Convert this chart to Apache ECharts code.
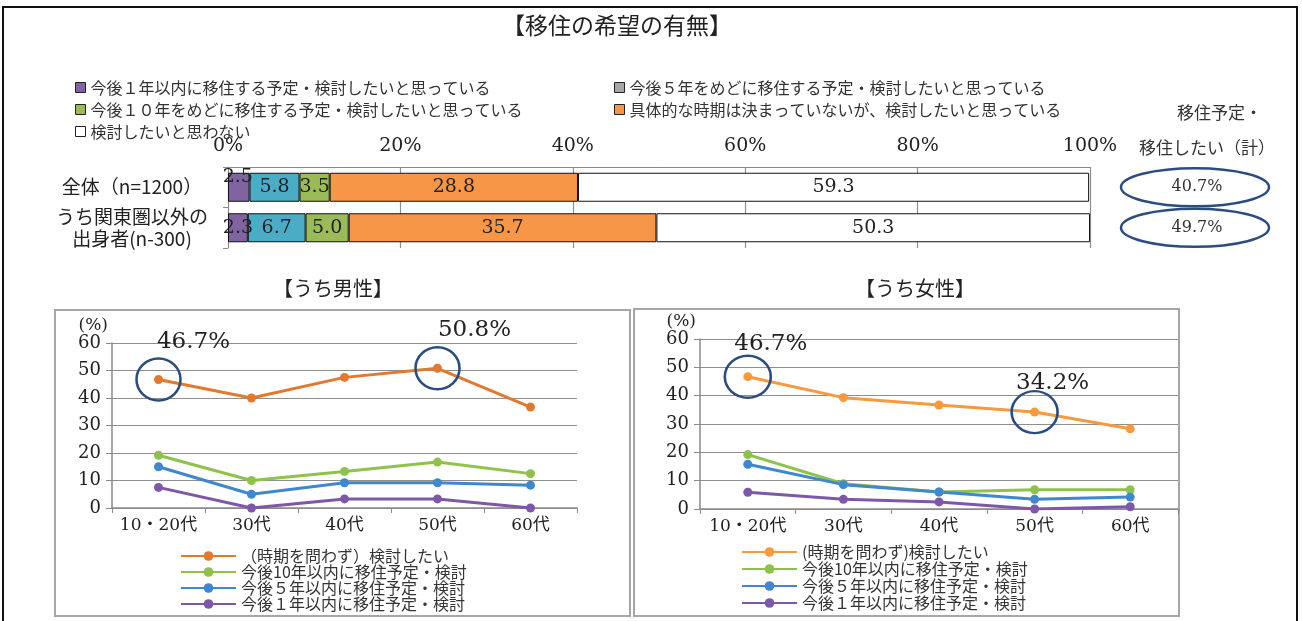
<!DOCTYPE html>
<html lang="ja">
<head>
<meta charset="utf-8">
<title>移住の希望の有無</title>
<script src="https://cdn.jsdelivr.net/npm/echarts@6/dist/echarts.min.js"></script>
<style>
  html, body { margin: 0; padding: 0; background: #fff; }
  #chart { width: 1302px; height: 621px; }
</style>
</head>
<body>
<div id="chart"></div>
<script>
// ---- 移住の希望の有無 (stacked 100% bar) ----
const barCategories = ['全体（n=1200）', 'うち関東圏以外の\n出身者(n-300)'];
const barSeriesNames = [
  '今後１年以内に移住する予定・検討したいと思っている',
  '今後５年をめどに移住する予定・検討したいと思っている',
  '今後１０年をめどに移住する予定・検討したいと思っている',
  '具体的な時期は決まっていないが、検討したいと思っている',
  '検討したいと思わない'
];
const within1Year = [2.5, 2.3];
const within5Years = [5.8, 6.7];
const within10Years = [3.5, 5.0];
const undecidedTiming = [28.8, 35.7];
const notConsidering = [59.3, 50.3];
const totalWilling = [40.7, 49.7];
const percentTicks = [0, 20, 40, 60, 80, 100];

// ---- うち男性 / うち女性 (line charts by age group) ----
const ageGroups = ['10・20代', '30代', '40代', '50代', '60代'];
const maleLineNames = ['（時期を問わず）検討したい', '今後10年以内に移住予定・検討', '今後５年以内に移住予定・検討', '今後１年以内に移住予定・検討'];
const femaleLineNames = ['(時期を問わず)検討したい', '今後10年以内に移住予定・検討', '今後５年以内に移住予定・検討', '今後１年以内に移住予定・検討'];
const maleAnyTime = [46.7, 40.0, 47.5, 50.8, 36.7];
const maleWithin10 = [19.2, 10.0, 13.3, 16.7, 12.5];
const maleWithin5 = [15.0, 5.0, 9.2, 9.2, 8.3];
const maleWithin1 = [7.5, 0.0, 3.3, 3.3, 0.0];
const femaleAnyTime = [46.7, 39.3, 36.7, 34.2, 28.3];
const femaleWithin10 = [19.2, 8.9, 6.0, 6.8, 6.8];
const femaleWithin5 = [15.8, 8.6, 6.0, 3.4, 4.2];
const femaleWithin1 = [5.9, 3.4, 2.5, 0.0, 0.8];
const lineTicks = [0, 10, 20, 30, 40, 50, 60];
// highlighted points: age group index for each panel
const maleHighlights = [0, 3];
const femaleHighlights = [0, 3];

const SERIF = "'DejaVu Serif', 'Noto Sans CJK JP', serif";
const JP = "'Noto Sans CJK JP', 'DejaVu Serif', sans-serif";
const TEXT = '#222';
const GRID_GRAY = '#8e8e8e';
const RING = '#2B4C80';

// ellipse outline as an SVG path drawn at its final pixel size
function ellipsePath(w, h) {
  const rx = w / 2, ry = h / 2;
  return 'path://M0,' + ry + 'A' + rx + ',' + ry + ',0,1,1,' + w + ',' + ry +
         'A' + rx + ',' + ry + ',0,1,1,0,' + ry + 'Z';
}

const barColors = ['#8064A2', '#4BACC6', '#9BBB59', '#F79646', '#FFFFFF'];
const barValues = [within1Year, within5Years, within10Years, undecidedTiming, notConsidering];

const barSeries = barValues.map((vals, k) => ({
  type: 'bar',
  name: barSeriesNames[k],
  stack: 'all',
  xAxisIndex: 0,
  yAxisIndex: 0,
  barWidth: 29,
  itemStyle: { color: barColors[k], borderColor: '#111', borderWidth: 1 },
  label: {
    show: true,
    position: 'inside',
    color: TEXT,
    fontFamily: SERIF,
    fontSize: 19,
    formatter: p => Number(p.value).toFixed(1)
  },
  data: vals.map((v, i) => (k === 0 && i === 0)
    ? { value: v, label: { offset: [-1, -10] } }
    : v)
}));

// totals (移住予定・移住したい 計) drawn as ringed labels beside each bar row
const ellipseSeries = {
  type: 'custom',
  coordinateSystem: 'cartesian2d',
  xAxisIndex: 1,
  yAxisIndex: 1,
  silent: true,
  data: totalWilling.map((v, i) => [0.5, i, v]),
  renderItem: (params, api) => {
    const c = api.coord([api.value(0), api.value(1)]);
    return {
      type: 'group',
      children: [
        { type: 'ellipse', shape: { cx: c[0], cy: c[1], rx: 74, ry: 19 },
          style: { fill: 'none', stroke: RING, lineWidth: 2.5 } },
        { type: 'text', x: c[0] + 2, y: c[1],
          style: { text: api.value(2).toFixed(1) + '%', align: 'center', verticalAlign: 'middle',
                   fill: '#333', font: "16px 'DejaVu Serif', 'Noto Sans CJK JP', serif" } }
      ]
    };
  }
};

function lineSeries(name, data, color, axisIdx) {
  return {
    type: 'line',
    name: name,
    xAxisIndex: axisIdx,
    yAxisIndex: axisIdx,
    data: data,
    symbol: 'circle',
    symbolSize: 9,
    lineStyle: { width: 3, color: color },
    itemStyle: { color: color },
    z: 3
  };
}

function ringMarks(values, idxs, offsets, size) {
  return {
    symbol: ellipsePath(size[0], size[1]),
    symbolSize: size,
    itemStyle: { color: 'rgba(0,0,0,0)', borderColor: RING, borderWidth: 2.5 },
    label: {
      show: true,
      position: 'inside',
      color: TEXT,
      fontFamily: SERIF,
      fontSize: 23,
      formatter: p => Number(p.value).toFixed(1) + '%'
    },
    data: idxs.map((ix, j) => ({
      coord: [ageGroups[ix], values[ix]],
      value: values[ix],
      label: { offset: offsets[j] }
    }))
  };
}

const maleColors = ['#E3782F', '#8FC24A', '#3F87CF', '#7D58A9'];
const femaleColors = ['#F79A3E', '#8FC24A', '#3F87CF', '#7D58A9'];

const maleOrange = lineSeries(maleLineNames[0], maleAnyTime, maleColors[0], 2);
maleOrange.markPoint = ringMarks(maleAnyTime, maleHighlights, [[35, -38], [37, -38]], [44, 42]);
const femaleOrange = lineSeries(femaleLineNames[0], femaleAnyTime, femaleColors[0], 3);
femaleOrange.markPoint = ringMarks(femaleAnyTime, femaleHighlights, [[23, -33], [18, -29]], [46, 42]);

const lineAll = [
  maleOrange,
  lineSeries(maleLineNames[1], maleWithin10, maleColors[1], 2),
  lineSeries(maleLineNames[2], maleWithin5, maleColors[2], 2),
  lineSeries(maleLineNames[3], maleWithin1, maleColors[3], 2),
  femaleOrange,
  lineSeries(femaleLineNames[1], femaleWithin10, femaleColors[1], 3),
  lineSeries(femaleLineNames[2], femaleWithin5, femaleColors[2], 3),
  lineSeries(femaleLineNames[3], femaleWithin1, femaleColors[3], 3)
];

function lineX(gridIndex) {
  return {
    type: 'category',
    gridIndex: gridIndex,
    data: ageGroups,
    boundaryGap: true,
    axisLine: { show: true, lineStyle: { color: '#8a8a8a', width: 1.5 } },
    axisTick: { show: true, inside: false, length: 5, interval: 0, lineStyle: { color: '#8a8a8a' } },
    axisLabel: { color: TEXT, fontFamily: SERIF, fontSize: 17, margin: 9, interval: 0 },
    splitLine: { show: false }
  };
}
function lineY(gridIndex) {
  return {
    type: 'value',
    gridIndex: gridIndex,
    min: lineTicks[0],
    max: lineTicks[lineTicks.length - 1],
    interval: lineTicks[1] - lineTicks[0],
    name: '(%)',
    nameLocation: 'end',
    nameGap: 7,
    nameTextStyle: { color: TEXT, fontFamily: SERIF, fontSize: 17, align: 'right', padding: [0, 4, 0, 0] },
    axisLine: { show: true, lineStyle: { color: '#8a8a8a', width: 1.5 } },
    axisTick: { show: true, inside: false, length: 6, lineStyle: { color: '#8a8a8a' } },
    axisLabel: { color: TEXT, fontFamily: SERIF, fontSize: 18, margin: 11 },
    splitLine: { show: true, lineStyle: { color: GRID_GRAY, width: 1.2 } }
  };
}

const legendText = { color: '#333', fontFamily: JP, fontSize: 16, lineHeight: 17 };
const lineLegendText = { color: '#333', fontFamily: JP, fontSize: 16, lineHeight: 16 };

const option = {
  backgroundColor: '#ffffff',
  animation: false,
  textStyle: { fontFamily: JP },
  title: [
    { text: '【移住の希望の有無】', left: 497, top: 9, textStyle: { color: TEXT, fontFamily: JP, fontSize: 23, fontWeight: 'normal' } },
    { text: '移住予定・', left: 1172, top: 99, textStyle: { color: '#333', fontFamily: JP, fontSize: 17, fontWeight: 'normal' } },
    { text: '移住したい（計）', left: 1134, top: 134, textStyle: { color: '#333', fontFamily: JP, fontSize: 17, fontWeight: 'normal' } },
    { text: '【うち男性】', left: 268, top: 273, textStyle: { color: TEXT, fontFamily: JP, fontSize: 20, fontWeight: 'normal' } },
    { text: '【うち女性】', left: 850, top: 273, textStyle: { color: TEXT, fontFamily: JP, fontSize: 20, fontWeight: 'normal' } }
  ],
  legend: [
    {
      orient: 'vertical', left: 70, top: 74,
      itemWidth: 10, itemHeight: 10, itemGap: 5, icon: 'rect',
      itemStyle: { borderColor: '#222', borderWidth: 1 },
      textStyle: legendText,
      data: [barSeriesNames[0], barSeriesNames[2], barSeriesNames[4]]
    },
    {
      orient: 'vertical', left: 609, top: 74,
      itemWidth: 10, itemHeight: 10, itemGap: 5, icon: 'rect',
      itemStyle: { borderColor: '#222', borderWidth: 1 },
      textStyle: legendText,
      data: [{ name: barSeriesNames[1], itemStyle: { color: '#A6A6A6' } }, barSeriesNames[3]]
    },
    {
      orient: 'vertical', left: 175, top: 543,
      itemWidth: 55, itemHeight: 12, itemGap: 0,
      textStyle: lineLegendText,
      data: maleLineNames
    },
    {
      orient: 'vertical', left: 736, top: 539,
      itemWidth: 55, itemHeight: 12, itemGap: 1,
      textStyle: lineLegendText,
      data: femaleLineNames
    }
  ],
  grid: [
    { left: 228, top: 167, width: 862, height: 81 },
    { left: 1121, top: 167, width: 148, height: 81 },
    { left: 112, top: 343, width: 465, height: 165 },
    { left: 700, top: 339, width: 478, height: 170 }
  ],
  xAxis: [
    {
      type: 'value', gridIndex: 0, position: 'top',
      min: percentTicks[0], max: percentTicks[percentTicks.length - 1],
      interval: percentTicks[1] - percentTicks[0],
      axisLine: { show: true, lineStyle: { color: '#8a8a8a' } },
      axisTick: { show: false },
      axisLabel: { color: TEXT, fontFamily: SERIF, fontSize: 19, margin: 11, formatter: '{value}%' },
      splitLine: { show: true, lineStyle: { color: GRID_GRAY, width: 1.2 } }
    },
    { type: 'value', gridIndex: 1, min: 0, max: 1, show: false },
    lineX(2),
    lineX(3)
  ],
  yAxis: [
    {
      type: 'category', gridIndex: 0, inverse: true, data: barCategories,
      axisLine: { show: true, lineStyle: { color: '#8a8a8a' } },
      axisTick: { show: true, inside: false, length: 5, lineStyle: { color: '#8a8a8a' } },
      axisLabel: { color: TEXT, fontFamily: JP, fontSize: 19, lineHeight: 22, margin: 96, align: 'center' }
    },
    { type: 'category', gridIndex: 1, inverse: true, data: barCategories, show: false },
    lineY(2),
    lineY(3)
  ],
  graphic: [
    { type: 'rect', shape: { x: 3, y: 7, width: 1294, height: 625 }, style: { fill: 'none', stroke: '#111', lineWidth: 2 }, silent: true, z: -10 },
    { type: 'rect', shape: { x: 55, y: 310, width: 575, height: 306 }, style: { fill: 'none', stroke: '#a6a6a6', lineWidth: 2 }, silent: true, z: -10 },
    { type: 'rect', shape: { x: 634, y: 309, width: 545, height: 307 }, style: { fill: 'none', stroke: '#a6a6a6', lineWidth: 2 }, silent: true, z: -10 }
  ],
  series: barSeries.concat([ellipseSeries], lineAll)
};

const chart = echarts.init(document.getElementById('chart'), null, { renderer: 'canvas' });
chart.setOption(option);
</script>
</body>
</html>
